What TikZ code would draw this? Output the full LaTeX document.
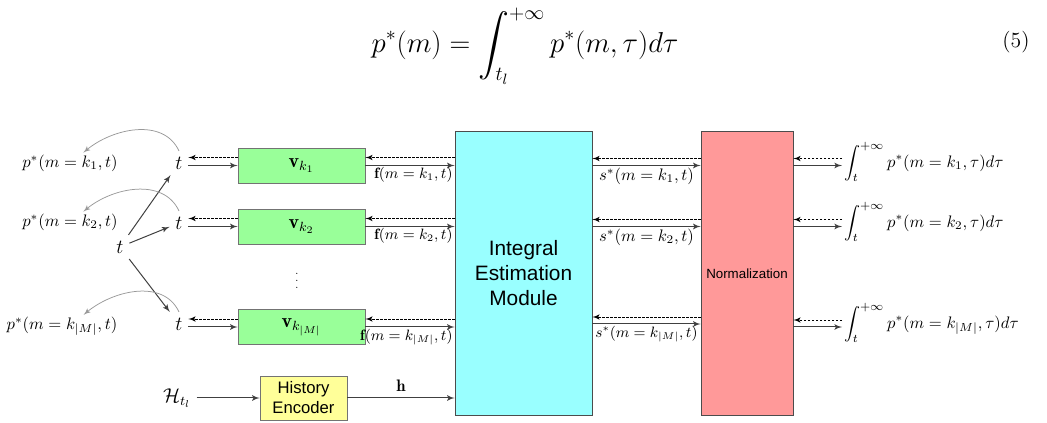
\documentclass[tikz,border=0pt]{standalone}
\usepackage{amsmath, amssymb}
\usepackage{fontspec}
\newfontfamily\arialfont{Liberation Sans}
\usepackage{tikz}
\usetikzlibrary{arrows,positioning,calc}
\definecolor{vgreen}{RGB}{153,255,153}
\definecolor{icyan}{RGB}{153,255,255}
\definecolor{npink}{RGB}{255,153,153}
\definecolor{hyellow}{RGB}{255,255,153}

\begin{document}
\begin{tikzpicture}[
    x=0.6pt, y=-0.6pt,
    vbox/.style={rectangle, draw=black!55, fill=vgreen, minimum width=76.2pt, minimum height=21pt, inner sep=0pt, font=\large},
    bigbox/.style={rectangle, draw=black!70, minimum width=82.2pt, minimum height=170.4pt, inner sep=0pt, align=center},
    tvar/.style={font=\large},
    lbl/.style={inner sep=1pt},
    small/.style={inner sep=1pt, font=\fontsize{9}{11}\selectfont},
    intlbl/.style={inner sep=1pt, anchor=west, font=\fontsize{9.6}{11}\selectfont},
    fwd/.style={draw=black!75, line width=0.6pt, -latex'},
    bwd/.style={draw=black, line width=0.5pt, dash pattern=on 1.4pt off 1pt, -latex'},
    loop/.style={draw=black!40, line width=0.45pt, -latex'}
]
    \useasboundingbox (0,0) rectangle (1047,423);

    % equation
    \node (eq) at (525,46) {\fontsize{18.5}{22}\selectfont$\displaystyle p^*(m)=\int_{t_l}^{+\infty} p^*(m,\tau)d\tau$};
    \node (eqnum) at (1016,42) {\fontsize{13}{15}\selectfont (5)};

    % left column
    \node [lbl] (p1) at (70,163) {$p^*(m=k_1,t)$};
    \node [lbl] (p2) at (70,222) {$p^*(m=k_2,t)$};
    \node [lbl] (p3) at (62,326) {$p^*(m=k_{|M|},t)$};
    \node [tvar] (t0) at (120,247) {$t$};
    \node [tvar] (t1) at (179,163) {$t$};
    \node [tvar] (t2) at (179,223) {$t$};
    \node [tvar] (t3) at (179,324) {$t$};

    \draw [fwd] (t0) -- (t1);
    \draw [fwd] (t0) -- (t2);
    \draw [fwd] (t0) -- (t3);
    \draw [loop] (t1.north) to[out=115, in=40] ([xshift=8pt]p1.north);
    \draw [loop] (t2.north) to[out=115, in=40] ([xshift=8pt]p2.north);
    \draw [loop] (t3.north) to[out=115, in=40] ([xshift=13pt]p3.north);

    % embeddings
    \node [vbox] (v1) at (301.5,165.5) {$\mathbf{v}_{k_1}$};
    \node [vbox] (v2) at (301.5,226.5) {$\mathbf{v}_{k_2}$};
    \node [vbox] (v3) at (301.5,327) {$\mathbf{v}_{k_{|M|}}$};
    \node (dots) at (297,276) {\fontsize{6}{7}\selectfont$\vdots$};

    \foreach \i in {1,2,3} {
        \draw [fwd] (v\i.west -| t\i.east) -- (v\i.west);
        \draw [bwd] ($(v\i.west)+(0,-8)$) -- ($(v\i.west -| t\i.east)+(0,-8)$);
    }

    % main blocks
    \node [bigbox, fill=icyan, font=\arialfont\fontsize{12.5}{15}\selectfont] (iem) at (523.5,273) {Integral\\Estimation\\Module};
    \node [bigbox, fill=npink, minimum width=55.2pt, font=\arialfont\fontsize{8}{10}\selectfont] (nrm) at (747,273.5) {Normalization};

    \draw [fwd] (v1.east) -- (v1.east -| iem.west) node [small, anchor=north east] {$\mathbf{f}(m=k_1,t)$};
    \draw [fwd] (v2.east) -- (v2.east -| iem.west) node [small, anchor=north east] {$\mathbf{f}(m=k_2,t)$};
    \draw [fwd] (v3.east) -- (v3.east -| iem.west) node [small, anchor=north east] {$\mathbf{f}(m=k_{|M|},t)$};
    \foreach \i in {1,2,3}
        \draw [bwd] ($(v\i.east -| iem.west)+(0,-8)$) -- ($(v\i.east)+(0,-8)$);

    \draw [fwd] (iem.east |- v1) -- (nrm.west |- v1) node [lbl, midway, below] {$s^*(m=k_1,t)$};
    \draw [fwd] (iem.east |- v2) -- (nrm.west |- v2) node [lbl, midway, below] {$s^*(m=k_2,t)$};
    \draw [fwd] ($(iem.east |- v3)+(0,-3)$) -- ($(nrm.west |- v3)+(0,-3)$) node [small, midway, below] {$s^*(m=k_{|M|},t)$};
    \draw [bwd] ($(nrm.west |- v1)+(0,-7)$) -- ($(iem.east |- v1)+(0,-7)$);
    \draw [bwd] ($(nrm.west |- v2)+(0,-7)$) -- ($(iem.east |- v2)+(0,-7)$);
    \draw [bwd] ($(nrm.west |- v3)+(0,-10)$) -- ($(iem.east |- v3)+(0,-10)$);

    % outputs
    \node [intlbl] (q1) at (842,162) {$\displaystyle\int_t^{+\infty} p^*(m=k_1,\tau)d\tau$};
    \node [intlbl] (q2) at (842,222) {$\displaystyle\int_t^{+\infty} p^*(m=k_2,\tau)d\tau$};
    \node [intlbl] (q3) at (842,323) {$\displaystyle\int_t^{+\infty} p^*(m=k_{|M|},\tau)d\tau$};
    \foreach \i in {1,2,3} {
        \draw [fwd] (nrm.east |- v\i) -- (q\i.west |- v\i);
        \draw [bwd] ($(q\i.west |- v\i)+(0,-7)$) -- ($(nrm.east |- v\i)+(0,-7)$);
    }

    % history
    \node (hist) at (177,398) {\large$\mathcal{H}_{t_l}$};
    \node [rectangle, draw=black!55, fill=hyellow, minimum width=52.2pt, minimum height=26.4pt, inner sep=0pt, align=center, font=\arialfont\fontsize{10}{12}\selectfont] (enc) at (303.5,398) {History\\Encoder};
    \draw [fwd] (hist) -- (enc);
    \draw [fwd] (enc) -- (enc -| iem.west) node [midway, above] {$\mathbf{h}$};
\end{tikzpicture}
\end{document}
